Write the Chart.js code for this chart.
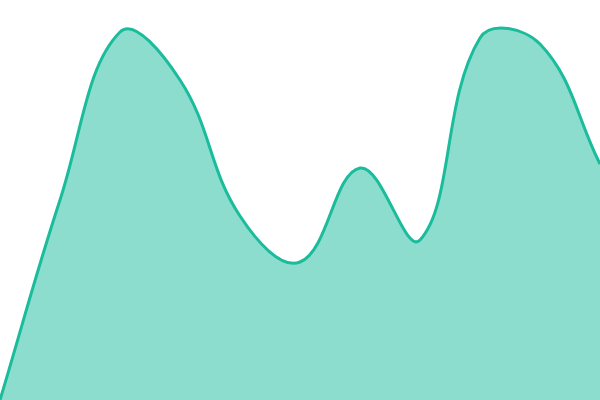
<!DOCTYPE html>
<html>
<head>
<meta charset="utf-8">
<script src="https://cdn.jsdelivr.net/npm/chart.js@4"></script>
<style>
  html, body { margin: 0; padding: 0; background: #fff; }
  #wrap { width: 600px; height: 400px; }
</style>
</head>
<body>
<div id="wrap"><canvas id="chart"></canvas></div>
<script>
// Area values, one every 60px across the canvas
const labels = ["1", "2", "3", "4", "5", "6", "7", "8", "9", "10", "11"];
const values = [0, 50, 92, 80, 46, 34.5, 58, 40, 90.5, 89, 59];

const ctx = document.getElementById("chart").getContext("2d");

new Chart(ctx, {
  type: "line",
  data: {
    labels,
    datasets: [
      {
        data: values,
        fill: true,
        backgroundColor: "rgba(26, 188, 156, 0.5)",
        borderColor: "#1abc9c",
        borderWidth: 3,
        tension: 0.4,
        pointRadius: 0,
      },
    ],
  },
  options: {
    responsive: true,
    maintainAspectRatio: false,
    animation: false,
    layout: { padding: 0 },
    plugins: {
      legend: { display: false },
      tooltip: { enabled: false },
    },
    scales: {
      x: { display: false, offset: false },
      y: { display: false, min: 0, max: 100 },
    },
  },
});
</script>
</body>
</html>
